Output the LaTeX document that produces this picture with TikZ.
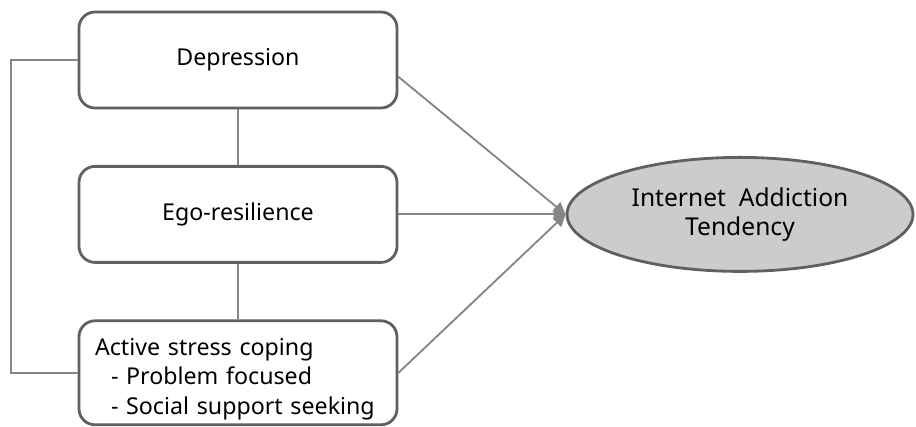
\documentclass[tikz,border=0pt]{standalone}
\usepackage{fontspec}
\setmainfont{Noto Sans}
\usepackage{tikz}
\usetikzlibrary{arrows.meta, shapes.geometric}

\definecolor{boxline}{HTML}{606060}
\definecolor{linkline}{HTML}{858585}
\definecolor{outfill}{HTML}{CCCCCC}

\begin{document}
\begin{tikzpicture}[
		factor/.style={draw=boxline,line width=2pt,rounded corners=0.4cm,minimum width=7.95cm,minimum height=2.4cm,fill=white,font=\fontsize{16.5}{20.8}\selectfont},
		outcome/.style={ellipse,draw=boxline,line width=2pt,fill=outfill,minimum width=8.65cm,minimum height=2.85cm,inner sep=0pt,align=center,font=\fontsize{17.5}{20.8}\selectfont},
		link/.style={linkline,line width=1.3pt},
		effect/.style={linkline,line width=1.3pt,-{Triangle[length=0.3cm,width=0.3cm]}}
	]
		\useasboundingbox (0,0) rectangle (22.9,10.65);
		\node[factor] (dep) at (5.95,9.15) {Depression};
		\node[factor] (ego) at (5.95,5.29) {Ego-resilience};
		\node[factor,minimum height=2.6cm,text width=7.15cm,inner xsep=0.4cm,inner ysep=0.05cm,align=left] (asc) at (5.95,1.33) {\rule{0pt}{21pt}Active stress coping\\\hspace*{0.4cm}- Problem focused\\\hspace*{0.4cm}- Social support seeking};
		\node[outcome] (iat) at (18.5,5.29) {Internet\ \ Addiction\\Tendency};
		\coordinate (l1) at (0.28,9.15);
		\coordinate (l2) at (0.28,1.33);
		\draw[link] (dep.west) -- (l1) -- (l2) -- (asc.west);
		\draw[link] (dep.south) -- (ego.north);
		\draw[link] (ego.south) -- (asc.north);
		\draw[effect] ([yshift=-0.42cm]dep.east) -- (iat.west);
		\draw[effect] (ego.east) -- (iat.west);
		\draw[effect] (asc.east) -- (iat.west);
	\end{tikzpicture}
\end{document}
